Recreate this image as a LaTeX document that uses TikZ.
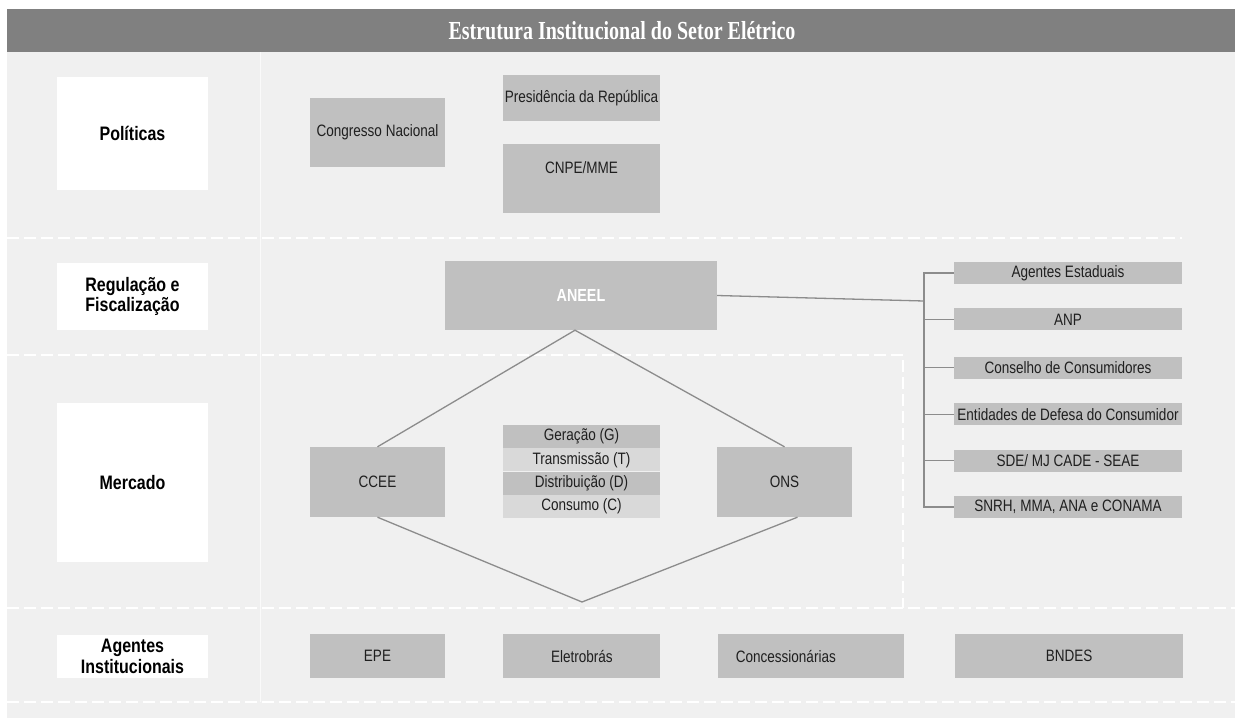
\documentclass[tikz,border=0pt]{standalone}
\usepackage{fontspec}
\usepackage{xcolor}
\usepackage{tikz}
\usetikzlibrary{positioning}
\setmainfont{Liberation Sans}
\newfontfamily\bodyfont[FakeStretch=0.82]{Liberation Sans}
\newfontfamily\titlefont[FakeStretch=0.77]{Liberation Serif}
\definecolor{bargray}{HTML}{808080}
\definecolor{panelgray}{HTML}{F0F0F0}
\definecolor{boxgray}{HTML}{C0C0C0}
\definecolor{rowlight}{HTML}{D9D9D9}
\definecolor{linegray}{HTML}{8C8C8C}

\begin{document}
\begin{tikzpicture}[x=1pt,y=-1pt,node distance=24pt,
  gbox/.style={fill=boxgray,inner sep=0pt,text=black!88,font=\bodyfont\fontsize{16.5}{18}\selectfont},
  lbox/.style={fill=white,minimum width=151pt,inner sep=0pt,align=center,font=\bodyfont\bfseries\fontsize{19.5}{20.5}\selectfont},
  srow/.style={gbox,minimum width=157pt,minimum height=23pt},
  rbox/.style={gbox,minimum width=228pt,minimum height=22pt},
  conn/.style={draw=linegray,line width=1.3pt},
  sepline/.style={white,line width=2.5pt,dash pattern=on 12pt off 5pt}]
  \useasboundingbox (0,0) rectangle (1235,718);
  % background and title bar
  \fill[panelgray] (7,52) rectangle (1235,718);
  \fill[bargray] (7,9) rectangle (1235,52);
  \node[text=white,font=\titlefont\bfseries\fontsize{26}{28}\selectfont] (title) at (622,31) {Estrutura Institucional do Setor Elétrico};
  \draw[white!70!panelgray,line width=1pt] (260,52) -- (260,702);
  \draw[sepline] (7,238) -- (1182,238);
  \draw[sepline] (7,355) -- (903,355) -- (903,608);
  \draw[sepline] (7,608) -- (1235,608);
  \draw[sepline] (7,702) -- (1235,702);

  % row labels
  \node[lbox,minimum height=113pt] (pol) at (132.5,133.5) {Políticas};
  \node[lbox,minimum height=67pt] (reg) at (132.5,296.5) {Regulação e\\Fiscalização};
  \node[lbox,minimum height=159pt] (mer) at (132.5,482.5) {Mercado};
  \node[lbox,minimum height=43pt] (agi) at (132.5,656.5) {Agentes\\Institucionais};

  % politicas
  \node[gbox,minimum width=135pt,minimum height=69pt] (cn) at (377.5,132.5) {Congresso Nacional};
  \node[gbox,minimum width=157pt,minimum height=46pt] (pr) at (581.5,98) {Presidência da República};
  \node[gbox,minimum width=157pt,minimum height=69pt,
    label={[gbox,fill=none,yshift=10.5pt]center:CNPE/MME}] (cnpe) at (581.5,178.5) {};

  % regulacao e mercado
  \node[gbox,minimum width=272pt,minimum height=69pt,text=white,
    font=\bodyfont\bfseries\fontsize{17.5}{19}\selectfont] (aneel) at (581,295.5) {ANEEL};
  \node[gbox,minimum width=135pt,minimum height=70pt] (ccee) at (377.5,482) {CCEE};
  \node[gbox,minimum width=135pt,minimum height=70pt] (ons) at (784.5,482) {ONS};
  \node[srow] (ger) at (581.5,436.5) {Geração (G)};
  \node[srow,fill=rowlight,below=0pt of ger] (tra) {Transmissão (T)};
  \node[srow,below=0pt of tra] (dis) {Distribuição (D)};
  \node[srow,fill=rowlight,below=0pt of dis] (cons) {Consumo (C)};

  \node[rbox] (ag) at (1068,273) {Agentes Estaduais};
  \node[rbox,below=of ag] (anp) {ANP};
  \node[rbox,below=26pt of anp] (ccon) {Conselho de Consumidores};
  \node[rbox,below=of ccon] (ent) {Entidades de Defesa do Consumidor};
  \node[rbox,below=of ent] (sde) {SDE/ MJ CADE - SEAE};
  \node[rbox,below=of sde] (snrh) {SNRH, MMA, ANA e CONAMA};

  % agentes institucionais
  \node[gbox,minimum width=135pt,minimum height=44pt] (epe) at (377.5,656) {EPE};
  \node[gbox,minimum width=157pt,minimum height=44pt,right=58pt of epe] (ele) {Eletrobrás};
  \node[gbox,minimum height=44pt,text width=150pt,inner xsep=18pt,align=left,right=57pt of ele] (conc) {Concessionárias};
  \node[gbox,minimum width=228pt,minimum height=44pt,right=51pt of conc] (bnd) {BNDES};

  % connectors
  \coordinate (brk) at (924,301);
  \coordinate (dbot) at (582,602);
  \draw[conn] (aneel.east) -- (brk);
  \draw[conn] (ag.west) -- (ag.west -| brk) -- (snrh.west -| brk) -- (snrh.west);
  \foreach \n in {anp,ccon,ent,sde}
    \draw[conn] (\n.west) -- (\n.west -| brk);
  \draw[conn] (ccee.north) -- ([xshift=-6pt]aneel.south) -- (ons.north);
  \draw[conn] (ccee.south) -- (dbot) -- ([xshift=13pt]ons.south);
\end{tikzpicture}
\end{document}
